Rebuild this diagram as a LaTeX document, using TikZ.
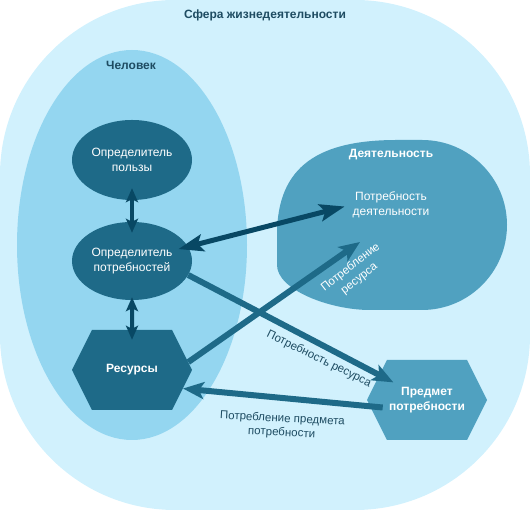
\documentclass[tikz,border=0pt]{standalone}
\usepackage{fontspec}
\setmainfont{Liberation Sans}
\usetikzlibrary{arrows.meta,shapes.geometric,shapes.symbols}

\definecolor{sphere}{RGB}{209,241,253}
\definecolor{person}{RGB}{148,214,240}
\definecolor{nodedark}{RGB}{30,106,136}
\definecolor{activity}{RGB}{80,161,192}
\definecolor{arrowdark}{RGB}{8,72,100}
\definecolor{labeltext}{RGB}{30,76,98}

\begin{document}
\begin{tikzpicture}[x=1pt,y=1pt,
  box/.style={fill=nodedark,text=white,inner sep=2pt,align=center,font=\fontsize{12}{15}\selectfont},
  hexa/.style={signal,signal to=west and east,signal pointer angle=127,minimum width=120pt,minimum height=80pt},
  link/.style={draw=nodedark,line width=6pt,-{Stealth[length=21pt,width=17pt,inset=5pt]}},
  pair/.style={draw=arrowdark,line width=4pt,{Stealth[length=14pt,width=12pt,inset=3pt]}-{Stealth[length=14pt,width=12pt,inset=3pt]}},
  lbl/.style={text=labeltext,align=center,font=\fontsize{11.5}{14}\selectfont}]
  \useasboundingbox (0,0) rectangle (530,510);
  \fill[sphere,rounded corners=175pt] (0,0) rectangle (530,510);
  \fill[person] (132,265) ellipse[x radius=115pt,y radius=195pt];
  \fill[activity] (277,275) .. controls (277,345) and (320,370) .. (397,370) -- (422,370)
    arc[start angle=90,end angle=-90,radius=85pt] -- (370,200)
    .. controls (330,200) and (277,220) .. (277,245) -- cycle;

  \node[lbl,font=\fontsize{12}{15}\selectfont\bfseries] (sphere) at (265,495) {Сфера жизнедеятельности};
  \node[lbl,font=\fontsize{12}{15}\selectfont\bfseries] (man) at (131,445) {Человек};
  \node[box,ellipse,minimum width=120pt,minimum height=80pt] (polz) at (132,350) {Определитель\\пользы};
  \node[box,ellipse,minimum width=120pt,minimum height=78pt] (potr) at (132,249) {Определитель\\потребностей};
  \node[box,hexa,font=\fontsize{12}{15}\selectfont\bfseries] (res) at (132,140) {Ресурсы};
  \node[box,hexa,fill=activity,font=\fontsize{12}{15}\selectfont\bfseries] (pred) at (427,110) {Предмет\\потребности};
  \node[box,fill=none,font=\fontsize{12}{15}\selectfont\bfseries] (act) at (391,355) {Деятельность};
  \node[box,fill=none] (pd) at (391,305) {Потребность\\деятельности};
  \coordinate (use) at (360,268);

  % labels on the connectors
  \node[lbl,rotate=-26] (lres) at (319,151) {Потребность ресурса};
  \node[lbl,text=white,rotate=38] (luse) at (355,237) {Потребление\\ресурса};
  \node[lbl,rotate=-3] (lpred) at (282,84) {Потребление предмета\\потребности};

  \draw[pair,shorten <=-12pt,shorten >=-11pt] (polz) -- (potr);
  \draw[pair,shorten <=-3pt,shorten >=-10pt] (potr) -- (res);
  \draw[pair,line width=5pt,{Stealth[length=25pt,width=17pt,inset=5pt]}-{Stealth[length=25pt,width=17pt,inset=5pt]},
    shorten <=-10pt,shorten >=6pt] (potr) -- (pd.west);
  \draw[link,shorten >=38pt] (potr.-14) -- (pred.center);
  \draw[link] (res.8) -- (use);
  \draw[link,shorten <=-16pt] ([yshift=-6pt]pred.west) -- (res.-20);
\end{tikzpicture}
\end{document}
